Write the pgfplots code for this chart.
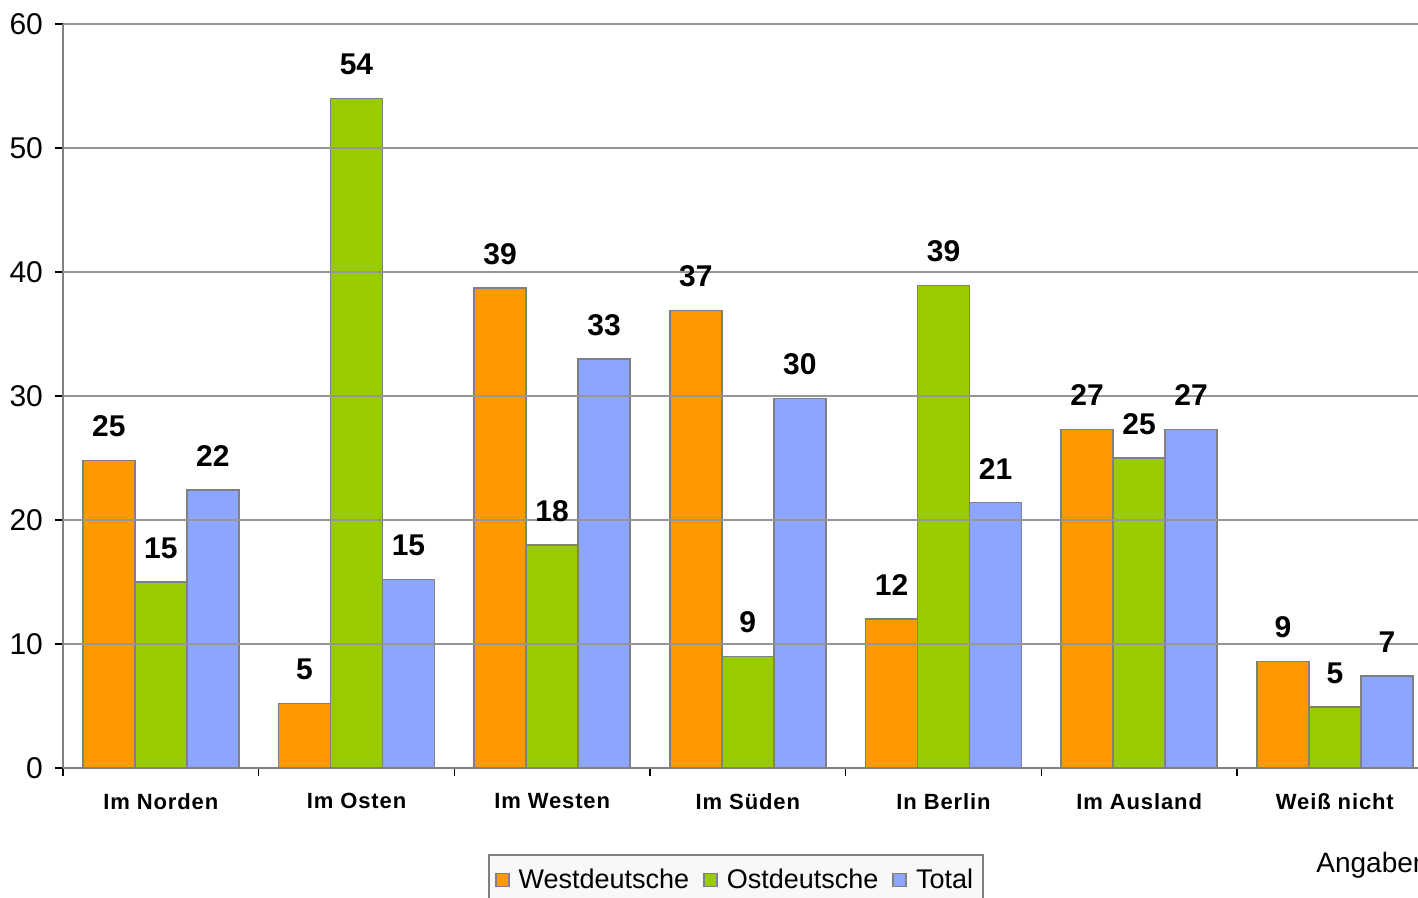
\documentclass[border=0pt]{standalone}
\usepackage{fontspec}
\setmainfont{Liberation Sans}
\usepackage{pgfplots}
\usepackage{pgfplotstable}
\pgfplotsset{compat=1.18}
\definecolor{cW}{RGB}{255,153,0}
\definecolor{cO}{RGB}{153,204,0}
\definecolor{cT}{RGB}{140,165,255}
\definecolor{edge}{RGB}{128,128,128}
\definecolor{gridc}{RGB}{150,150,150}
\definecolor{legbg}{RGB}{248,248,248}
\pgfplotstableread{
x W O T
0 24.8 15.0 22.4
1 5.2 54.0 15.2
2 38.7 18.0 33.0
3 36.9 9.0 29.8
4 12.0 38.9 21.4
5 27.3 25.0 27.3
6 8.6 4.9 7.4
}\data
\begin{document}
\begin{tikzpicture}
\begin{axis}[
  scale only axis,
  width=677.5pt, height=372pt,
  at={(0,0)}, anchor=south west,
  ybar=0pt, bar width=26pt,
  xmin=-0.5, xmax=6.425,
  ymin=0, ymax=60,
  ytick={0,10,...,60},
  xtick={0,...,6},
  xticklabels={Im Norden, Im Osten, Im Westen, Im Süden, In Berlin, Im Ausland, Weiß nicht},
  major x tick style={draw=none},
  minor xtick={-0.5,0.5,...,5.5},
  minor tick length=4pt,
  major tick length=4pt,
  tick align=outside,
  ytick style={draw=black, line width=0.6pt},
  minor x tick style={draw=black, line width=0.6pt},
  axis x line*=bottom, axis y line*=left,
  axis line style={draw=edge, line width=1pt, -},
  ymajorgrids, major grid style={draw=gridc, line width=0.8pt},
  axis on top,
  /pgf/number format/assume math mode=true,
  yticklabel style={font=\fontsize{15}{17}\selectfont, xshift=-2.5pt},
  xticklabel style={font=\bfseries\fontsize{11}{13}\selectfont\addfontfeature{LetterSpace=4}, yshift=-5pt},
  nodes near coords={\pgfmathprintnumber[fixed,precision=0]{\pgfplotspointmeta}},
  every node near coord/.append style={anchor=center, yshift=17pt, font=\bfseries\fontsize{15}{17}\selectfont, text=black},
  legend style={at={(0.4967,-0.1156)}, anchor=north, legend columns=3, draw=edge, fill=legbg, line width=0.8pt,
    font=\fontsize{13.5}{16}\selectfont, inner xsep=3pt, inner ysep=5pt,
    /tikz/every odd column/.append style={column sep=2.5pt},
    /tikz/every even column/.append style={column sep=5pt}},
  legend image code/.code={\draw[#1, line width=0.8pt] (0pt,-3.25pt) rectangle (6.5pt,3.25pt);},
]
\addplot[fill=cW, draw=edge, line width=0.8pt] table[x=x,y=W]{\data};
\addplot[fill=cO, draw=edge, line width=0.8pt] table[x=x,y=O]{\data};
\addplot[fill=cT, draw=edge, line width=0.8pt] table[x=x,y=T]{\data};
\legend{Westdeutsche, Ostdeutsche, Total}
\end{axis}
\node[anchor=west, inner sep=0pt, font=\fontsize{14}{16}\selectfont] at (626.5pt,-48.5pt) {Angaben in \%};
\pgfresetboundingbox
\path[use as bounding box] (-31.5pt,-65pt) rectangle (677.5pt,384pt);
\end{tikzpicture}
\end{document}
